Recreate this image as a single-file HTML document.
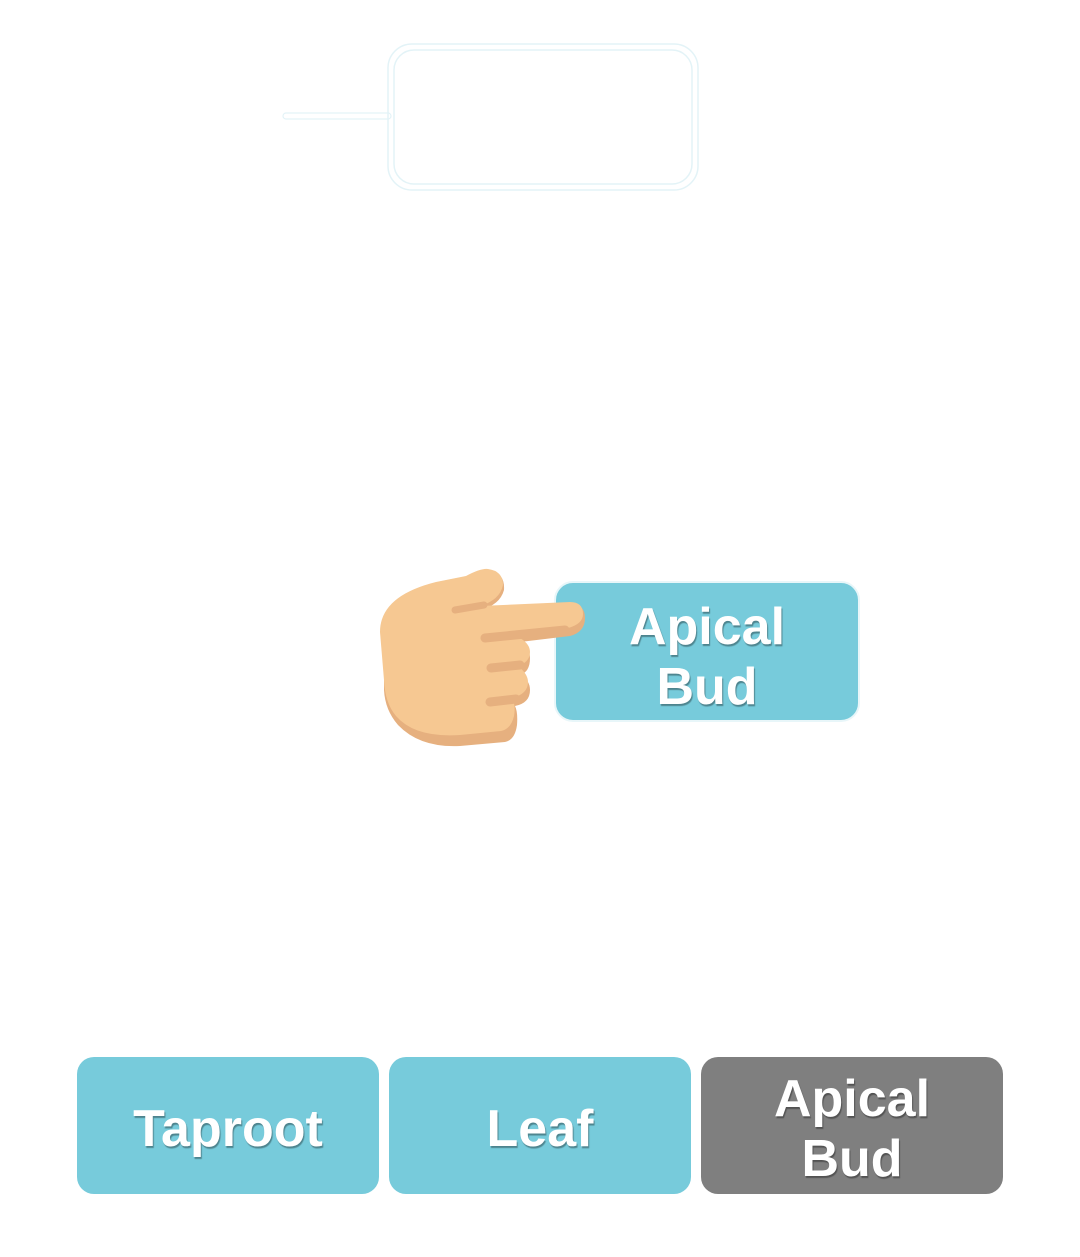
<!DOCTYPE html>
<html><head><meta charset="utf-8"><style>
body{margin:0;width:1080px;height:1257px;background:#fff;position:relative;overflow:hidden;font-family:"Liberation Sans",sans-serif}
.b{position:absolute;border-radius:17px;color:#fff;display:flex;align-items:center;justify-content:center;text-align:center;font-size:52px;font-weight:bold;line-height:60px;text-shadow:1px 2px 1px rgba(0,0,0,.35);letter-spacing:0px}
.b span{position:relative;top:3px}
.t{background:#77cbdb}
.g{background:#7f7f7f}
</style></head><body>
<svg width="1080" height="1257" style="position:absolute;left:0;top:0">
<rect x="388" y="44" width="310" height="146" rx="24" fill="none" stroke="#e3f3f7" stroke-width="1.5"/>
<rect x="394" y="50" width="298" height="134" rx="20" fill="none" stroke="#e3f3f7" stroke-width="1.5"/>
<rect x="283" y="113" width="108" height="6" rx="3" fill="none" stroke="#e3f3f7" stroke-width="1.2"/>
<rect x="555" y="582" width="304" height="139" rx="18" fill="#77cbdb" stroke="#e8f6f9" stroke-width="2"/>
<g>
<path d="M384 640 Q384 600 440 585 L470 580 Q485 572 492 572 Q505 574 504 590 Q500 605 480 610 L570 604 Q585 604 585 618 Q585 632 570 636 L520 642 Q530 648 530 658 Q530 672 520 675 Q530 680 530 690 Q530 703 515 706 Q518 712 517 725 Q515 740 505 742 L460 746 Q420 748 398 725 Q385 710 384 690 Z" fill="#e6b07f"/>
<path d="M380 632 Q380 596 436 582 L466 576 Q481 568 488 569 Q503 571 503 585 Q500 600 480 606 L570 602 Q583 602 583 614 Q583 624 568 628 L520 638 Q530 644 530 652 Q530 662 518 666 Q528 674 528 682 Q528 694 512 698 Q516 705 514 716 Q511 729 501 731 L460 735 Q415 738 396 716 Q385 703 384 680 Z" fill="#f6c892"/>
<path d="M455 610 L484 605" stroke="#e6b07f" stroke-width="7" stroke-linecap="round"/>
<path d="M485 638 L565 630" stroke="#e6b07f" stroke-width="9" stroke-linecap="round"/>
<path d="M491 668 L520 665" stroke="#e6b07f" stroke-width="9" stroke-linecap="round"/>
<path d="M490 702 L516 699" stroke="#e6b07f" stroke-width="9" stroke-linecap="round"/>
</g>
</svg>
<div class="b" style="left:557px;top:595px;width:300px;height:118px;background:none"><span>Apical<br>Bud</span></div>
<div class="b t" style="left:77px;top:1057px;width:302px;height:137px"><span>Taproot</span></div>
<div class="b t" style="left:389px;top:1057px;width:302px;height:137px"><span>Leaf</span></div>
<div class="b g" style="left:701px;top:1057px;width:302px;height:137px"><span>Apical<br>Bud</span></div>
</body></html>
